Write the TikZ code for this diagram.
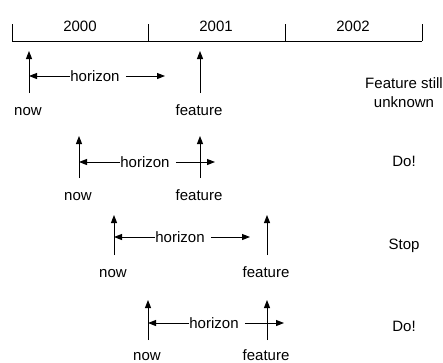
\documentclass[tikz,border=0pt]{standalone}
\usepackage{fontspec}
\setmainfont{Liberation Sans}
\usetikzlibrary{arrows.meta}
\begin{document}
\begin{tikzpicture}[x=1pt,y=-1pt,
  every node/.style={font=\fontsize{15}{19}\selectfont, inner sep=0pt},
  axis/.style={line width=0.9pt},
  arr/.style={line width=1pt,-{Triangle[length=8pt,width=6pt]}},
  lbl/.style={anchor=base},
  hz/.style={anchor=center},
  verdict/.style={anchor=base, align=center}]
\useasboundingbox (0,0) rectangle (443,362);

% time axis with one tick per year boundary
\coordinate (t0) at (12,41);
\coordinate (t1) at (148,41);
\coordinate (t2) at (285,41);
\coordinate (t3) at (422,41);
\draw[axis] (t0) -- (t3);
\foreach \k in {0,...,3} \draw[axis] (t\k) -- ++(0,-17);
\node[lbl] (yr0) at (80,31) {2000};
\node[lbl] (yr1) at (216,31) {2001};
\node[lbl] (yr2) at (353,31) {2002};

% one row per situation: now / feature markers and the one-year horizon
% \i: row, \n: now x, \f: feature x, \t: arrow top, \h: horizon y,
% \b: arrow bottom, \l: label baseline
\foreach \i/\n/\f/\t/\h/\b/\l in {1/29/200/51/76/93/115, 2/79/200/136/162/178/200,
                                  3/114/267/215/237/255/277, 4/148/267/300/323/340/360} {
  \coordinate (nt\i) at (\n,\t);
  \coordinate (nb\i) at (\n,\b);
  \coordinate (ft\i) at (\f,\t);
  \coordinate (fb\i) at (\f,\b);
  \coordinate (he\i) at (\n+136,\h);
  \draw[arr] (nb\i) -- (nt\i);
  \draw[arr] (fb\i) -- (ft\i);
  \node[lbl] (now\i) at (\n-1,\l) {now};
  \node[lbl] (feat\i) at (\f-1,\l) {feature};
  \node[hz] (hor\i) at (\n+66,\h) {horizon};
  \draw[arr] (hor\i.west) -- (nt\i |- hor\i);
  \draw[arr] ([xshift=6pt]hor\i.east) -- (he\i);
}

% outcome of each situation
\node[verdict] (v1) at (404,107) {Feature still\\unknown};
\node[verdict] (v2) at (404,166) {Do!};
\node[verdict] (v3) at (404,249) {Stop};
\node[verdict] (v4) at (404,331) {Do!};
\end{tikzpicture}
\end{document}
